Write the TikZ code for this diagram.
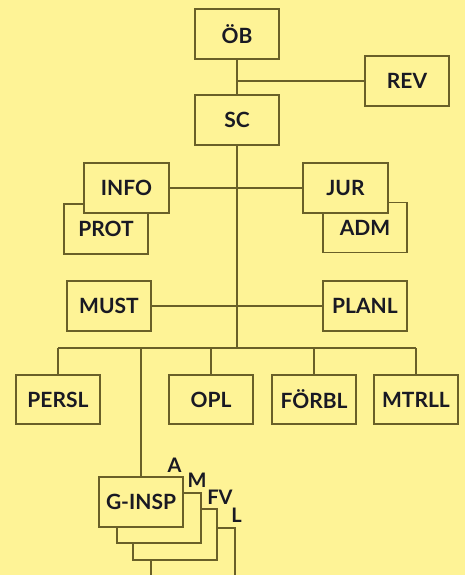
\documentclass[tikz,border=0pt]{standalone}
\usepackage{fontspec}
\setmainfont{Lato}
\definecolor{bg}{RGB}{254,243,150}
\definecolor{ln}{RGB}{105,95,40}
\definecolor{tx}{RGB}{25,25,35}
\tikzset{
  orgbox/.style={draw=ln, line width=1.5pt, fill=bg, minimum width=84pt, minimum height=50pt, inner sep=0pt, text=tx, font=\bfseries\fontsize{21}{21}\selectfont},
  conn/.style={draw=ln, line width=1.5pt},
  tag/.style={text=tx, inner sep=0pt, font=\bfseries\fontsize{20}{20}\selectfont}
}
\begin{document}
\begin{tikzpicture}[x=1pt,y=-1pt]
\fill[bg] (0,0) rectangle (465,575);
\useasboundingbox (0,0) rectangle (465,575);
\clip (0,0) rectangle (465,575);
% coordinates
\coordinate (bus) at (237,348);
% top
\node[orgbox] (OB) at (237,34) {ÖB};
\node[orgbox] (REV) at (407,81) {REV};
\node[orgbox] (SC) at (237,120) {SC};
\draw[conn] (OB.south) -- (SC.north);
\draw[conn] (REV.west) -- (REV.west -| OB.south);
\draw[conn] (SC.south) -- (SC.south |- bus);
% staff boxes
\node[orgbox] (PROT) at (106,229) {PROT};
\node[orgbox, minimum width=85pt] (INFO) at (126.5,188) {INFO};
\node[orgbox] (ADM) at (365,227.5) {ADM};
\node[orgbox, minimum width=85pt] (JUR) at (345.5,188) {JUR};
\draw[conn] (INFO.east) -- (JUR.west);
\node[orgbox] (MUST) at (109,306) {MUST};
\node[orgbox] (PLANL) at (365,306) {PLANL};
\draw[conn] (MUST.east) -- (PLANL.west);
% lower row
\node[orgbox, minimum height=49pt] (PERSL) at (58,399.5) {PERSL};
\node[orgbox, minimum height=49pt] (OPL) at (211,399.5) {OPL};
\node[orgbox, minimum height=49pt] (FORBL) at (314,399.5) {FÖRBL};
\node[orgbox, minimum height=49pt] (MTRLL) at (416,399.5) {MTRLL};
\draw[conn] (PERSL.north |- bus) -- (MTRLL.north |- bus);
\foreach \n in {PERSL,OPL,FORBL,MTRLL} \draw[conn] (\n.north) -- (\n.north |- bus);
% inspectorate stack
\node[orgbox] (LBOX) at (193,553) {};
\node[orgbox, minimum height=51pt] (FVBOX) at (175,534.5) {};
\node[orgbox] (MBOX) at (159,518) {};
\node[orgbox] (GINSP) at (141,502) {G-INSP};
\draw[conn] (GINSP.north) -- (GINSP.north |- bus);
\node[tag] (A) at (174.5,465) {A};
\node[tag] (M) at (197,480.5) {M};
\node[tag] (FV) at (220,497.5) {FV};
\node[tag] (L) at (236.5,515) {L};
\end{tikzpicture}
\end{document}
